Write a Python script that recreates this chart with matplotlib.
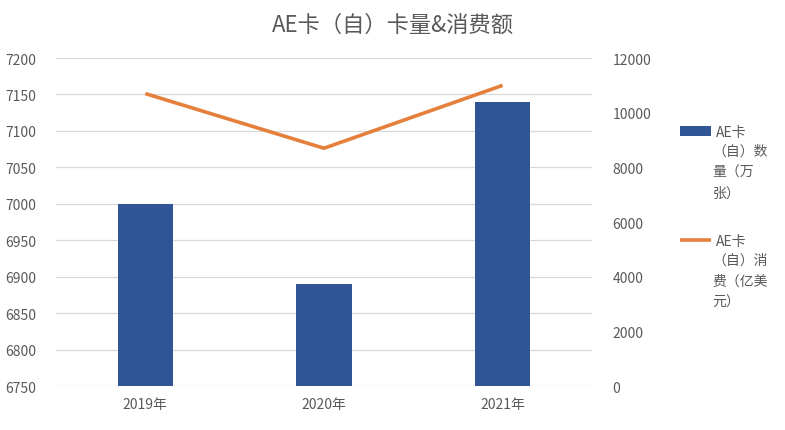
import matplotlib
matplotlib.use("Agg")
import matplotlib.pyplot as plt
import numpy as np

plt.rcParams['font.family'] = ['Noto Sans CJK SC', 'DejaVu Sans']

# Chart data
years = ['2019年', '2020年', '2021年']
card_count = [7000, 6890, 7140]          # 万张, left axis
spend_amount = [10700, 8700, 11000]      # 亿美元, right axis
left_ticks = [6750, 6800, 6850, 6900, 6950, 7000, 7050, 7100, 7150, 7200]
right_ticks = [0, 2000, 4000, 6000, 8000, 10000, 12000]
legend_first = ['AE卡', 'AE卡']
legend_rest = ['（自）数\n量（万\n张）', '（自）消\n费（亿美\n元）']

bar_color = '#2F5597'
line_color = '#E4803C'
text_color = '#595959'
grid_color = '#D9D9D9'

fig = plt.figure(figsize=(7.85, 4.31), dpi=100)
ax = fig.add_axes([0.0713, 0.102, 0.6827, 0.761])
ax2 = ax.twinx()

x = np.arange(len(years))
bars = ax.bar(x, card_count, width=0.31, color=bar_color, zorder=2)
ax.set_ylim(6750, 7200)
ax.set_yticks(left_ticks)
ax.set_xlim(-0.5, 2.5)
ax.set_xticks(x)
ax.set_xticklabels(years)
ax.yaxis.grid(True, color=grid_color, linewidth=0.9, zorder=0)
ax.set_axisbelow(True)

line, = ax2.plot(x, spend_amount, color=line_color, linewidth=2.6,
                 solid_capstyle='butt')
ax2.set_ylim(0, 12000)
ax2.set_yticks(right_ticks)

for a in (ax, ax2):
    for s in a.spines.values():
        s.set_visible(False)
    a.tick_params(length=0, colors=text_color, labelsize=10)
ax.tick_params(axis='y', pad=14)
ax.tick_params(axis='x', pad=8)
ax2.tick_params(axis='y', pad=15)

fig.text(0.5, 0.942, 'AE卡（自）卡量&消费额', ha='center', va='center',
         fontsize=16, color=text_color)

leg = fig.legend([bars, line], legend_first, loc='upper left',
                 bbox_to_anchor=(0.866, 0.708), frameon=False,
                 borderpad=0, borderaxespad=0, handlelength=2.25,
                 handletextpad=0.35, labelspacing=6.85, fontsize=10,
                 labelcolor=text_color)

fig.canvas.draw()
renderer = fig.canvas.get_renderer()
inv = fig.transFigure.inverted()
for txt, rest in zip(leg.get_texts(), legend_rest):
    bb = txt.get_window_extent(renderer).transformed(inv)
    fig.text(bb.x0 - 0.004, bb.y0 - 0.012, rest, ha='left', va='top',
             fontsize=10, color=text_color, linespacing=1.6)

fig.savefig('out.png', dpi=100)
